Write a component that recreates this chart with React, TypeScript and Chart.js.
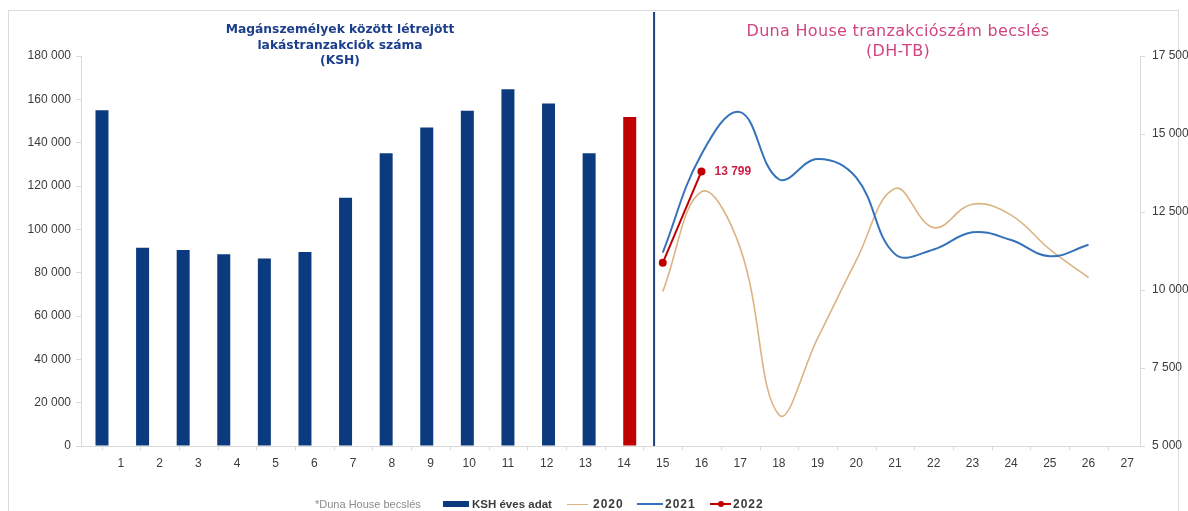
import React, { useEffect, useRef } from "react";
import { Chart, registerables } from "chart.js";

Chart.register(...registerables);

// ---- data ----
const kshCategories = [1, 2, 3, 4, 5, 6, 7, 8, 9, 10, 11, 12, 13, 14];
const kshValues = [155000, 91500, 90500, 88500, 86500, 89500, 114600, 135100, 147000, 154700, 164700, 158100, 135100, 151900];
const axisLabels = [1, 2, 3, 4, 5, 6, 7, 8, 9, 10, 11, 12, 13, 14, 15, 16, 17, 18, 19, 20, 21, 22, 23, 24, 25, 26, 27];
const dhCategories = [15, 16, 17, 18, 19, 20, 21, 22, 23, 24, 25, 26];
const dh2020 = [9950, 13150, 11350, 6000, 8450, 10950, 13250, 12000, 12750, 12400, 11300, 10400];
const dh2021 = [11200, 14350, 15700, 13550, 14200, 13600, 11150, 11300, 11850, 11600, 11080, 11450];
const dh2022Categories = [15, 16];
const dh2022 = [10870, 13799];
const leftTicks = [0, 20000, 40000, 60000, 80000, 100000, 120000, 140000, 160000, 180000];
const rightTicks = [5000, 7500, 10000, 12500, 15000, 17500];

const NAVY = "#0b3b7e";
const RED = "#c00000";
const TAN = "#dbb483";
const BLUE = "#3572b9";
const TICK_COLOR = "#3b3b3b";
const AXIS_GRAY = "#d9d9d9";
const FONT = "'Liberation Sans', Arial, sans-serif";

const fmt = (v: number) => String(Math.round(v)).replace(/\B(?=(\d{3})+(?!\d))/g, " ");

const overlayPlugin = {
  id: "overlay",
  afterDraw(chart: any) {
    const ctx = chart.ctx;
    const x = chart.scales.x;
    const xb = chart.scales.xb;
    const { left, right, bottom } = chart.chartArea;
    ctx.save();
    // small tick marks between category labels
    ctx.strokeStyle = AXIS_GRAY;
    ctx.lineWidth = 1;
    for (let k = 0; k <= axisLabels.length; k++) {
      const px = x.getPixelForValue(k + 0.5);
      if (px < left || px > right) continue;
      ctx.beginPath();
      ctx.moveTo(Math.round(px) + 0.5, bottom);
      ctx.lineTo(Math.round(px) + 0.5, bottom + 4);
      ctx.stroke();
    }
    // separator between KSH and DH-TB parts
    const sx = xb.getPixelForValue(14.6);
    ctx.strokeStyle = "#1f3f80";
    ctx.lineWidth = 2;
    ctx.beginPath();
    ctx.moveTo(sx, 12);
    ctx.lineTo(sx, bottom);
    ctx.stroke();
    // data label for last 2022 point
    const meta = chart.getDatasetMeta(3);
    const pt = meta.data[meta.data.length - 1];
    if (pt) {
      ctx.fillStyle = "#cc1f46";
      ctx.font = `bold 12px ${FONT}`;
      ctx.textAlign = "left";
      ctx.textBaseline = "middle";
      ctx.fillText(fmt(dh2022[dh2022.length - 1]), pt.x + 13, pt.y);
    }
    ctx.restore();
  },
};

export default function App() {
  const ref = useRef<HTMLCanvasElement | null>(null);

  useEffect(() => {
    if (!ref.current) return;
    const tickFont = { family: FONT, size: 12 };
    const chart = new Chart(ref.current, {
      type: "bar",
      data: {
        datasets: [
          {
            type: "bar",
            label: "KSH éves adat",
            data: kshCategories.map((c, i) => ({ x: c, y: kshValues[i] })),
            backgroundColor: kshCategories.map((_, i) => (i === kshCategories.length - 1 ? RED : NAVY)),
            grouped: false,
            barPercentage: 0.32,
            categoryPercentage: 1,
            maxBarThickness: 13,
            xAxisID: "xb",
            yAxisID: "y",
            order: 5,
          } as any,
          {
            type: "line",
            label: "2020",
            data: dhCategories.map((c, i) => ({ x: c, y: dh2020[i] })),
            borderColor: TAN,
            borderWidth: 1.6,
            pointRadius: 0,
            tension: 0.4,
            fill: false,
            xAxisID: "x",
            yAxisID: "y1",
            order: 3,
          } as any,
          {
            type: "line",
            label: "2021",
            data: dhCategories.map((c, i) => ({ x: c, y: dh2021[i] })),
            borderColor: BLUE,
            borderWidth: 2,
            pointRadius: 0,
            tension: 0.4,
            fill: false,
            xAxisID: "x",
            yAxisID: "y1",
            order: 2,
          } as any,
          {
            type: "line",
            label: "2022",
            data: dh2022Categories.map((c, i) => ({ x: c, y: dh2022[i] })),
            borderColor: RED,
            backgroundColor: RED,
            borderWidth: 2,
            pointRadius: 4,
            pointBorderWidth: 0,
            tension: 0,
            fill: false,
            xAxisID: "x",
            yAxisID: "y1",
            order: 1,
          } as any,
        ],
      },
      options: {
        animation: false,
        responsive: true,
        maintainAspectRatio: false,
        layout: { padding: { left: 0, right: 0, top: 56, bottom: 0 } },
        plugins: { legend: { display: false }, tooltip: { enabled: false } },
        scales: {
          xb: { type: "linear", offset: false, min: 0.483, max: 26.57, display: false },
          x: {
            type: "linear",
            offset: false,
            position: "bottom",
            min: -0.03,
            max: 27.33,
            afterBuildTicks: (s: any) => {
              s.ticks = axisLabels.map((v) => ({ value: v }));
            },
            afterFit: (s: any) => {
              s.height = 65;
            },
            ticks: {
              autoSkip: false,
              maxRotation: 0,
              padding: 10,
              color: TICK_COLOR,
              font: tickFont,
              callback: (v: any) => String(v),
            },
            grid: { offset: false, drawOnChartArea: false, drawTicks: false },
            border: { color: AXIS_GRAY },
          },
          y: {
            type: "linear",
            position: "left",
            min: 0,
            max: 180000,
            afterBuildTicks: (s: any) => {
              s.ticks = leftTicks.map((v) => ({ value: v }));
            },
            afterFit: (s: any) => {
              s.width = 81;
            },
            ticks: { color: TICK_COLOR, font: tickFont, padding: 5, callback: (v: any) => fmt(Number(v)) },
            grid: { drawOnChartArea: false, tickLength: 5, color: AXIS_GRAY },
            border: { color: AXIS_GRAY },
          },
          y1: {
            type: "linear",
            position: "right",
            min: 5000,
            max: 17500,
            afterBuildTicks: (s: any) => {
              s.ticks = rightTicks.map((v) => ({ value: v }));
            },
            afterFit: (s: any) => {
              s.width = 48;
            },
            ticks: { color: TICK_COLOR, font: tickFont, padding: 7, callback: (v: any) => fmt(Number(v)) },
            grid: { drawOnChartArea: false, tickLength: 5, color: AXIS_GRAY },
            border: { color: AXIS_GRAY },
          },
        } as any,
      },
      plugins: [overlayPlugin],
    });
    return () => chart.destroy();
  }, []);

  const legendText: React.CSSProperties = {
    position: "absolute",
    top: 497,
    height: 14,
    lineHeight: "14px",
    fontFamily: FONT,
    fontSize: 11.5,
    whiteSpace: "nowrap",
  };

  return (
    <div style={{ position: "fixed", left: 0, top: 0, width: 1188, height: 511, background: "#fff", overflow: "hidden" }}>
      <div
        style={{
          position: "absolute",
          left: 8,
          top: 10,
          width: 1171,
          height: 520,
          border: "1.5px solid #dcdcdc",
          boxSizing: "border-box",
        }}
      />
      <canvas ref={ref} style={{ position: "absolute", left: 0, top: 0 }} />
      <div style={{ position: "absolute", left: 0, top: 0, width: 1188, height: 511 }}>
        <div
          style={{
            position: "absolute",
            left: 140,
            width: 400,
            top: 22,
            textAlign: "center",
            fontFamily: "'DejaVu Sans', sans-serif",
            fontWeight: "bold",
            fontSize: 12.3,
            lineHeight: "15.5px",
            color: "#1c3f8c",
          }}
        >
          Magánszemélyek között létrejött
          <br />
          lakástranzakciók száma
          <br />
          (KSH)
        </div>
        <div
          style={{
            position: "absolute",
            left: 648,
            width: 500,
            top: 21,
            textAlign: "center",
            fontFamily: "'DejaVu Sans', sans-serif",
            fontSize: 16,
            letterSpacing: 0.3,
            lineHeight: "20px",
            color: "#d0457f",
          }}
        >
          Duna House tranzakciószám becslés
          <br />
          (DH-TB)
        </div>
        <div style={{ ...legendText, left: 315, fontSize: 11, color: "#8a8a8a" }}>*Duna House becslés</div>
        <div style={{ position: "absolute", left: 443, top: 501, width: 26, height: 6, background: NAVY }} />
        <div style={{ ...legendText, left: 472, color: "#3b3b3b", fontWeight: "bold" }}>KSH éves adat</div>
        <div style={{ position: "absolute", left: 567, top: 503.5, width: 21, height: 1.5, background: TAN }} />
        <div style={{ ...legendText, left: 593, fontSize: 12, letterSpacing: 1, color: "#3b3b3b", fontWeight: "bold" }}>2020</div>
        <div style={{ position: "absolute", left: 637, top: 503, width: 26, height: 2, background: BLUE }} />
        <div style={{ ...legendText, left: 665, fontSize: 12, letterSpacing: 1, color: "#3b3b3b", fontWeight: "bold" }}>2021</div>
        <div style={{ position: "absolute", left: 710, top: 503, width: 21, height: 2, background: RED }} />
        <div style={{ position: "absolute", left: 717.5, top: 501, width: 6, height: 6, borderRadius: 3, background: RED }} />
        <div style={{ ...legendText, left: 733, fontSize: 12, letterSpacing: 1, color: "#3b3b3b", fontWeight: "bold" }}>2022</div>
      </div>
    </div>
  );
}
